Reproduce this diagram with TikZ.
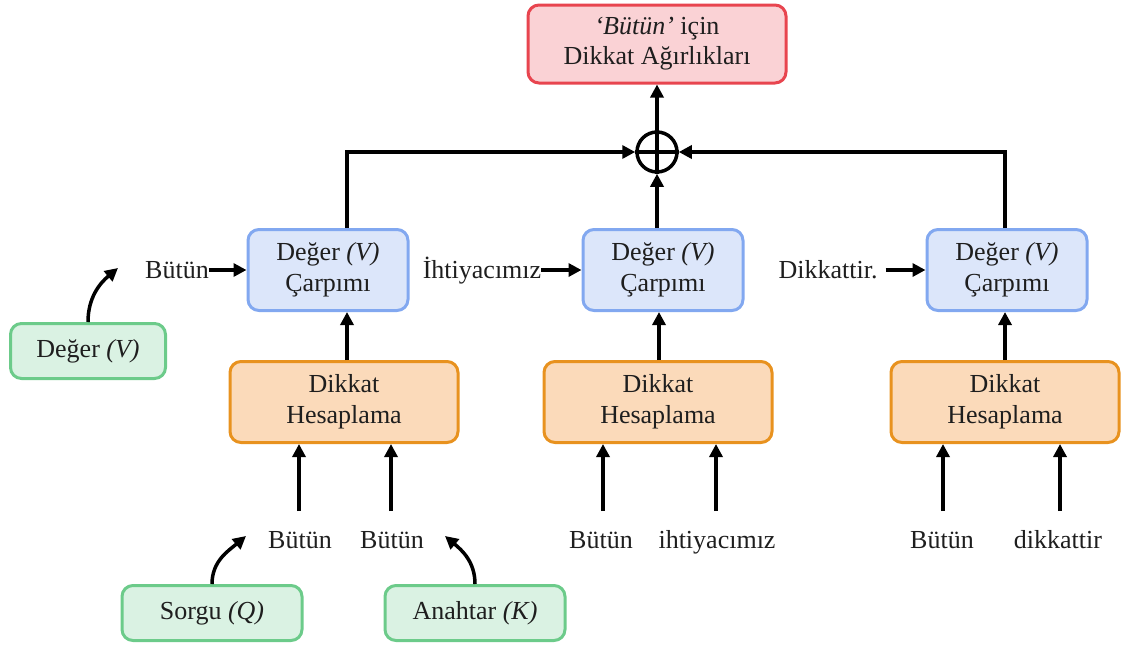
\documentclass[tikz,border=0pt]{standalone}
\usepackage{fontspec}
\setmainfont{Liberation Serif}
\usetikzlibrary{arrows.meta}
\definecolor{redfill}{HTML}{FAD2D5}
\definecolor{redline}{HTML}{E8454F}
\definecolor{bluefill}{HTML}{DCE6FA}
\definecolor{blueline}{HTML}{82A8F0}
\definecolor{orfill}{HTML}{FBDABA}
\definecolor{orline}{HTML}{E8921F}
\definecolor{grfill}{HTML}{DAF2E3}
\definecolor{grline}{HTML}{6CCB8A}
\definecolor{txt}{HTML}{1E1E1E}
\tikzset{
  box/.style={rounded corners=11pt, line width=3pt, align=center, inner sep=0pt, text=txt, font=\fontsize{26}{31}\selectfont},
  redbox/.style={box, draw=redline, fill=redfill, minimum width=258pt, minimum height=78pt},
  bluebox/.style={box, draw=blueline, fill=bluefill, minimum width=160pt, minimum height=81pt},
  orbox/.style={box, draw=orline, fill=orfill, minimum width=228pt, minimum height=81pt},
  grbox/.style={box, draw=grline, fill=grfill, minimum height=55pt},
  lbl/.style={inner sep=0pt, anchor=base, text=txt, font=\fontsize{26}{31}\selectfont},
  arr/.style={line width=3.5pt, -{Triangle[length=13pt,width=13pt]}},
}
\begin{document}
\begin{tikzpicture}[x=1pt,y=-1pt]
\useasboundingbox (0,0) rectangle (1123,646);
% top
\node[redbox] (res) at (657,44) {\textit{`Bütün'} için\\[-1pt]Dikkat Ağırlıkları};
\node[circle, draw, line width=3.5pt, minimum size=40pt, inner sep=0pt] (sum) at (657,152) {};
\draw[line width=3.5pt] (sum.north) -- (sum.south) (sum.west) -- (sum.east);
\draw[arr] (sum.north) -- (res.south);
% blue boxes
\node[bluebox] (b1) at (328,270) {Değer \textit{(V)}\\Çarpımı};
\node[bluebox] (b2) at (663,270) {Değer \textit{(V)}\\Çarpımı};
\node[bluebox] (b3) at (1007,270) {Değer \textit{(V)}\\Çarpımı};
% orange boxes
\node[orbox] (o1) at (344,402) {Dikkat\\Hesaplama};
\node[orbox] (o2) at (658,402) {Dikkat\\Hesaplama};
\node[orbox] (o3) at (1005,402) {Dikkat\\Hesaplama};
% to sum
\coordinate (c1) at (347,152);
\coordinate (c3) at (1005,152);
\draw[arr] (b1.north -| c1) |- (sum.west);
\draw[arr] (b3.north -| c3) |- (sum.east);
\draw[arr] (b2.north -| sum) -- (sum.south);
% orange to blue
\draw[arr] (o1.north -| c1) -- (b1.south -| c1);
\draw[arr] (o2.north -| 659,0) -- (b2.south -| 659,0);
\draw[arr] (o3.north -| c3) -- (b3.south -| c3);
% side labels
\node[lbl] (l1) at (177,278) {Bütün};
\node[lbl] (l2) at (482,278) {İhtiyacımız};
\node[lbl] (l3) at (828,278) {Dikkattir.};
\draw[arr] (l1.east |- b1.west) -- (b1.west);
\draw[arr] (l2.east |- b2.west) -- (b2.west);
\draw[arr] ([xshift=8pt]l3.east |- b3.west) -- (b3.west);
% bottom labels
\node[lbl] (q1) at (300,548) {Bütün};
\node[lbl] (k1) at (392,548) {Bütün};
\node[lbl] (q2) at (601,548) {Bütün};
\node[lbl] (k2) at (717,548) {ihtiyacımız};
\node[lbl] (q3) at (942,548) {Bütün};
\node[lbl] (k3) at (1058,548) {dikkattir};
\foreach \n/\x in {q1/299,k1/391,q2/603,k2/716,q3/943,k3/1060}{
  \coordinate (t\n) at (\x,511);
}
\draw[arr] (tq1) -- (o1.south -| tq1);
\draw[arr] (tk1) -- (o1.south -| tk1);
\draw[arr] (tq2) -- (o2.south -| tq2);
\draw[arr] (tk2) -- (o2.south -| tk2);
\draw[arr] (tq3) -- (o3.south -| tq3);
\draw[arr] (tk3) -- (o3.south -| tk3);
% green boxes
\node[grbox, minimum width=155pt] (gv) at (88,351) {Değer \textit{(V)}};
\node[grbox, minimum width=180pt] (gq) at (212,613) {Sorgu \textit{(Q)}};
\node[grbox, minimum width=180pt] (gk) at (475,613) {Anahtar \textit{(K)}};
\coordinate (ev) at (118,268);
\coordinate (eq) at (246,536);
\coordinate (ek) at (445,536);
\draw[arr] (gv.north) to[out=90,in=220] (ev);
\draw[arr] (gq.north) to[out=90,in=220] (eq);
\draw[arr] (gk.north) to[out=90,in=-40] (ek);
\end{tikzpicture}
\end{document}
